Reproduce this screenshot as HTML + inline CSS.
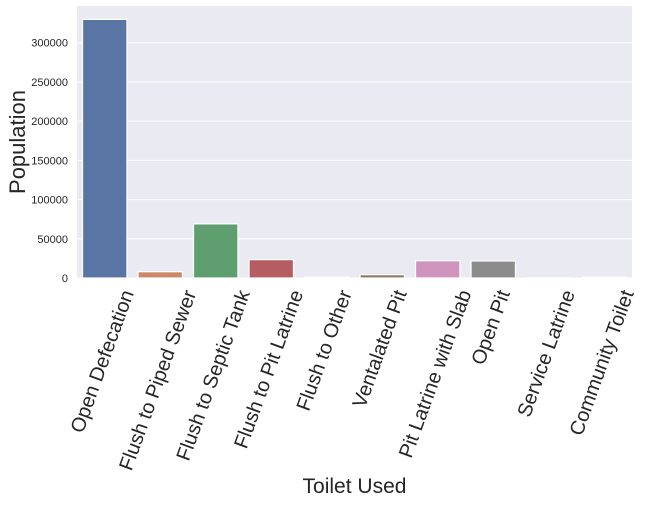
<!DOCTYPE html>
<html><head><meta charset="utf-8"><style>
body{margin:0;background:#fff}
svg text{font-family:"Liberation Sans",Arial,sans-serif;fill:#262626}
</style></head><body>
<svg id="c" width="649" height="503" xmlns="http://www.w3.org/2000/svg"></svg>
<script>
const categories=["Open Defecation","Flush to Piped Sewer","Flush to Septic Tank","Flush to Pit Latrine","Flush to Other","Ventalated Pit","Pit Latrine with Slab","Open Pit","Service Latrine","Community Toilet"];
const values=[329700,8000,69000,23400,1000,4200,22000,21700,300,1000];
const colors=["#5875a4","#cc8963","#5f9e6e","#b55d60","#857aab","#8d7866","#d095bf","#8c8c8c","#c1b37f","#71aec0"];
const yTicks=[0,50000,100000,150000,200000,250000,300000];
const L=77,R=632,T=6,B=278;
const y=v=>B-v*(B-42.7)/300000;
const band=(R-L)/categories.length;
const x=i=>L+band*(i+0.5);
const svg=document.getElementById('c');
const NS="http://www.w3.org/2000/svg";
function mk(t,a,p){const e=document.createElementNS(NS,t);for(const k in a)e.setAttribute(k,a[k]);(p||svg).appendChild(e);return e;}
const bg=mk('rect',{x:L,y:T,width:R-L,height:B-T,fill:'#eaeaf2'});


yTicks.forEach(v=>{
 const g=mk('line',{x1:L,x2:R,y1:y(v),y2:y(v),stroke:'#fff','stroke-width':1});
 
 
 const t=mk('text',{x:L-9,y:y(v)+4,'text-anchor':'end','font-size':11});
 t.textContent=v;
 
 
});
categories.forEach((c,i)=>{
 const w=band*0.8;
 const b=mk('rect',{x:x(i)-w/2,y:y(values[i]),width:w,height:B-y(values[i]),fill:colors[i],stroke:'#fff','stroke-width':1.2});
 
 
 const t=mk('text',{'font-size':20,'text-anchor':'end','dominant-baseline':'central'});
 t.textContent=c;
 
 
 const len=t.getComputedTextLength();
 const px=x(i)+len/2*Math.cos(70*Math.PI/180)-2, py=291;
 t.setAttribute('transform',`translate(${px},${py}) rotate(-70)`);
});
const yt=mk('text',{transform:`translate(25,${(T+B)/2}) rotate(-90)`,'text-anchor':'middle','font-size':22});
yt.textContent='Population';


const xt=mk('text',{x:(L+R)/2,y:493,'text-anchor':'middle','font-size':21});
xt.textContent='Toilet Used';


</script>
</body></html>
